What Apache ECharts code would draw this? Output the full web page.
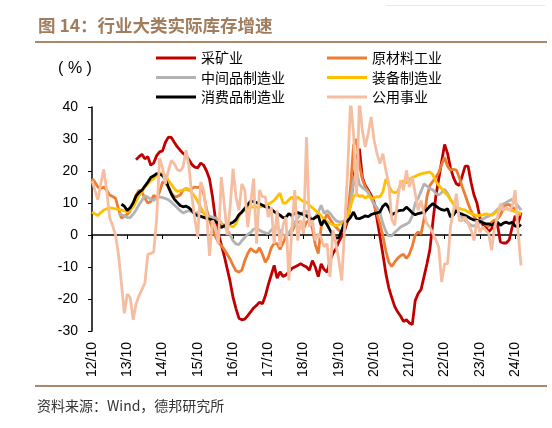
<!DOCTYPE html>
<html><head><meta charset="utf-8">
<script src="https://cdn.jsdelivr.net/npm/echarts/dist/echarts.min.js"></script>
<style>html,body{margin:0;padding:0;background:#fff}#c{width:552px;height:428px}</style>
</head><body><div id="c"></div>
<script>
// Monthly categories 2012/10 .. 2024/12
const months = [];
for (let i = 0; i < 147; i++) { const t = 2012 * 12 + 9 + i; months.push(Math.floor(t / 12) + '/' + String(t % 12 + 1).padStart(2, '0')); }
const tickLabels = ['12/10','13/10','14/10','15/10','16/10','17/10','18/10','19/10','20/10','21/10','22/10','23/10','24/10'];
const seriesNames = ['采矿业','原材料工业','中间品制造业','装备制造业','消费品制造业','公用事业'];

const mining = [null,null,null,null,null,null,null,null,null,null,null,null,null,null,null,
 23.5,24.5,25.2,23.8,24.5,21.8,22.5,24.8,26,26.3,29,30.6,
 30.5,29,27.6,26.5,25.5,24.8,23.5,22,21.2,21,22.5,21.8,
 20,17.5,12,5,0.4,-3,-6.5,-10.5,-14.5,-19.5,-23,-26,
 -26.5,-26.3,-25.2,-24,-22.8,-22,-21,-21.5,-19,-15.5,-12.5,-9.5,
 -13.5,-11.5,-13,-12.5,-11.5,-10.5,-10,-9.5,-9,-9.5,-10,-11,
 -8,-10,-13,-9,-10.8,-11.6,-8,-5.8,-4.3,-2,-0.5,1.5,
 4.5,10,17,23.5,27,18,15.5,14,12.4,10.2,5,-0.5,
 -6,-12,-16.5,-19.5,-22.3,-24,-25.3,-27,-26.5,-27.5,-28,-20.5,
 -18.3,-17,-13,-9,-4.5,4,12,17.5,23,28.3,25.5,21,
 18,16,15.5,18.5,21.5,21.5,16.5,12.5,10,5.5,3.2,2.5,
 1,2,4,3.2,-2.2,-2.5,-2.5,-1.5,2.5,6,3.5,7];
const rawMaterial = [17.6,16.5,15,14.5,15,14,12.5,12,11.5,8.2,5.3,5.8,
 6.5,7.5,10,12.5,14,13.3,11.5,10,10.5,12.4,11.5,13.5,
 16.5,16.3,15,13.2,12,12,12.5,14,14.5,14,14.5,15,
 14.8,15.3,13,8,4.5,2,-0.5,-2.2,-3.3,-4.5,-6,-7.5,
 -9.5,-11.2,-11.6,-11,-8,-5.8,-4.2,-5,-5.5,-4,-6,-8.5,
 -7,-4,-2.7,-2.7,-4.5,-2.5,-0.5,0.5,1,3,4,4,
 2,4,4.6,2,-3,-5.8,2.5,4.6,6.5,5,3.5,2.5,
 1.5,1,2.5,6,15,28,30,22,17.5,15,13.5,11.5,
 9.5,6.5,3.5,-0.3,-5,-8.5,-9.8,-8.5,-7.3,-6.5,-6,-7.3,
 -6,-3.5,0,0.9,0.4,5,12,15.5,16.8,18,19.5,22,
 24.3,21.5,20.3,20.5,20.3,18,15,12.5,9.8,7.5,5.8,4.5,
 3.7,4,3.2,2.6,4,4.6,5,6.3,8.2,9.5,9.5,8.6,
 8.2,6.8,6.2];
const intermediate = [null,null,null,null,null,null,null,null,null,
 6.7,6.3,6,
 5.5,5.4,6.5,7.8,9.5,10.8,12.3,11.8,11.2,10.8,11.5,11.9,
 11.7,11.4,11,10.3,9.4,8.5,7.6,6.9,7.3,7.6,7.2,6.7,
 7,7.5,6.8,6.2,5.8,5.6,5.3,5,3.8,2.6,1.7,0,
 -1.8,-2.8,-3,-1.8,-0.8,0.2,0.8,1.8,2.2,1.5,1,0.7,
 0.4,1.5,2.5,2.8,1.2,0,-0.3,0.7,2,3.8,5.3,6.5,
 7.2,7.5,6,4.5,5.5,7.2,9.3,6.7,7.6,6.8,5.6,4.5,
 4.1,4.1,4.5,5.8,10,17,20.2,15.8,14.8,14.2,13.3,11.5,
 9.8,8.5,7,3.5,1.2,-0.3,-0.3,0.8,1.6,2.5,3,3.4,
 4,6,10,11.5,13.7,16,15.3,14.5,14.1,13,12.5,13.3,
 14.3,13,11.2,9.7,7.9,6.8,5.4,4.5,3.8,3,2.8,3.5,
 4.5,5,5.5,5.9,6.4,7.1,8,8.7,9.7,10.2,10.7,11.2,
 10.2,9,7.8];
const equipment = [7.2,6.6,6.1,7,7.8,8.2,8.5,8.4,8.2,8,7.8,7.5,
 7.2,7.8,8.8,10.5,12.3,13.5,15,16,17,17.6,18.5,19.3,
 19.4,18.5,17,15.8,14.5,13.6,13.8,14,14.5,14.3,13.2,12,
 10.5,8.5,7,5.6,5,4.6,4.3,4.1,3.5,3.1,3.3,3,
 2.5,3.5,5.8,7,7.8,8.4,8.8,8.7,8.8,8.7,9,9.3,
 9.6,10.2,10.8,12,13.1,10,10,11,11.9,10.8,11.9,11,
 10.5,10.3,9.3,8.5,7.7,7,6,4.8,4.2,3.6,3.2,3,
 3.2,3.5,4.3,5.8,9,12,12.9,12,12.3,11.5,12.2,11.5,
 11.6,12,11.9,13.5,17.5,15.5,13.6,13.2,13.5,15.8,17,16.2,
 17.5,18,18.3,18.8,19.1,19.3,19.5,19.7,18.8,16.8,15.5,14.5,
 13.3,12.4,11,9.8,8.8,8.3,8,7.8,7.2,6.7,6.4,6.1,
 6.1,6.3,6.6,6.4,6.1,6.8,7.5,8.1,8.3,8.2,7.9,7.6,
 7.3,7,6.7];
const consumer = [null,null,null,null,null,null,null,null,null,null,
 9.6,9,
 7.7,8.5,10,12.2,13.3,14,15.3,16.5,18,18.5,19.2,19,
 18.6,17.5,15,12.8,11.2,10.2,9.2,8.8,9,8.5,7.6,6.5,
 6,5.8,5.5,5.2,5,4.7,4.2,3.7,2.3,2.9,3.2,3.6,
 4,4.8,6.3,7.2,8.3,9.5,10.6,10.5,10.1,9.8,9.3,8.8,
 8.7,8,7.3,6.7,6.2,5.4,5.5,6.7,6.1,6.8,7,6.7,
 6.3,6,5.2,4.8,5.5,6,3,4.6,3.2,1.5,0,-1,
 -0.8,1.5,4,4.4,5.5,7.2,5.2,5.1,5.5,6,5.7,6.4,
 6.7,6.9,7.2,9,9.8,8.5,6.3,6.8,7.5,7.7,7.8,8.7,
 7.9,6.9,6.3,6.7,6.9,7.1,8,9,9.8,9.1,8.4,7.9,
 7.7,8.2,5.6,6.3,7.6,6.8,6.5,6.1,5.6,5.1,4.7,4.6,
 4.3,3.8,3.5,3.5,3.1,3.7,4,3,3.7,4,3.6,4,
 2.8,2.5,3.3];
const utilities = [17,14,11,16,20.5,14,5.5,3,0,-6,-15,-24.5,
 -18.5,-19.5,-26.5,-21.5,-19,-17,-15,-6,-5.8,-5.3,5,24,
 21,16,20,23.3,22.3,20.5,20,21.3,26.5,21.3,12,5,
 -0.6,16.6,14,7,-6.5,4.6,2.5,-2.7,18.1,9.8,0,8.7,
 20.7,11.9,7.7,16,14,2.5,9.8,17.6,-2.7,14,12,11.9,
 5.6,8.7,-2.7,7.7,-3.7,3,5.6,-14.2,1.5,14,-1.7,4.6,
 0.4,30.6,2.5,4.6,-1.7,0.4,-1,-3.7,-2.7,-13.1,1.5,-2.7,
 -7.9,-14.2,2.5,20,42,31.7,12,42,32.7,27.5,31.7,36.9,
 29.6,25.4,22.3,25.4,20.2,16,5,3,10.8,17.1,14,20.2,
 15,18.1,13,7.7,10.8,6.7,3.5,2.5,0.5,-1.5,-3.8,-14.7,
 -9,-9,2.5,7.7,12.9,4.5,4.5,5.6,3.5,1.5,-1.7,4.6,
 0.9,2.5,1.5,0.4,-4.8,2.5,5.6,9.8,7.7,8.7,7.7,9,
 14,1,-9.5];

const seriesData = [mining, rawMaterial, intermediate, equipment, consumer, utilities];
const colors = ['#c00000','#ed7d31','#b3b3b3','#ffc000','#000000','#f6bea1'];
const FONT = '"Liberation Sans", Arial, sans-serif';
const CJK = '"Noto Sans CJK SC", sans-serif';

const chart = echarts.init(document.getElementById('c'));
const legendBase = {orient:'vertical', top:45, itemWidth:40, itemHeight:3, itemGap:3.5, icon:'rect',
  textStyle:{fontSize:14, color:'#000', fontFamily:CJK, lineHeight:16}};
chart.setOption({
  animation:false,
  backgroundColor:'#fff',
  grid:[{left:92,right:31,top:107,bottom:97},{left:92,right:31,top:107,bottom:97}],
  xAxis:[
    {type:'category',gridIndex:0,data:months,boundaryGap:false,
     axisLine:{onZero:true,lineStyle:{color:'#000',width:1.5}},
     axisTick:{show:true,interval:11,length:4,lineStyle:{color:'#000',width:1}},
     axisLabel:{show:false},splitLine:{show:false}},
    {type:'category',gridIndex:1,data:months,boundaryGap:false,
     axisLine:{show:false},axisTick:{show:false},
     axisLabel:{rotate:90,margin:11,fontSize:14,color:'#000',fontFamily:FONT,interval:11,
       formatter:(v,idx)=>tickLabels[Math.round(idx/12)]},
     splitLine:{show:false}}
  ],
  yAxis:[
    {type:'value',gridIndex:0,min:-30,max:40,interval:10,
     axisLine:{show:true,lineStyle:{color:'#000',width:1.5}},
     axisTick:{show:true,length:4,lineStyle:{color:'#000'}},
     axisLabel:{fontSize:14,color:'#000',margin:14,fontFamily:FONT},
     splitLine:{show:false}},
    {type:'value',gridIndex:1,min:0,max:1,show:false}
  ],
  legend:[
    Object.assign({left:151,data:[seriesNames[0],seriesNames[2],seriesNames[4]]}, legendBase),
    Object.assign({left:322,data:[seriesNames[1],seriesNames[3],seriesNames[5]]}, legendBase)
  ],
  series: seriesNames.map((n,i)=>({
    name:n,type:'line',xAxisIndex:0,yAxisIndex:0,data:seriesData[i],
    showSymbol:false,symbol:'none',clip:true,
    lineStyle:{color:colors[i],width:2.8},itemStyle:{color:colors[i]},z:2+i
  })),
  graphic:[
    {type:'text',style:{x:38,y:25,text:'图 14：行业大类实际库存增速',font:'bold 17.5px "Noto Sans CJK SC"',fill:'#a07d5e',verticalAlign:'middle'}},
    {type:'rect',shape:{x:35,y:41,width:512,height:2},style:{fill:'#a8896c'}},
    {type:'rect',shape:{x:386,y:5,width:159,height:1},style:{fill:'#eee7e0'}},
    {type:'text',style:{x:75,y:69,text:'( % )',font:'16px "Liberation Sans", Arial, sans-serif',fill:'#000',align:'center',verticalAlign:'middle'}},
    {type:'rect',shape:{x:35,y:385,width:512,height:2},style:{fill:'#a8896c'}},
    {type:'text',style:{x:37,y:406,text:'资料来源：Wind，德邦研究所',font:'14px "Noto Sans CJK SC"',fill:'#333',verticalAlign:'middle'}}
  ]
});
</script>
</body></html>
